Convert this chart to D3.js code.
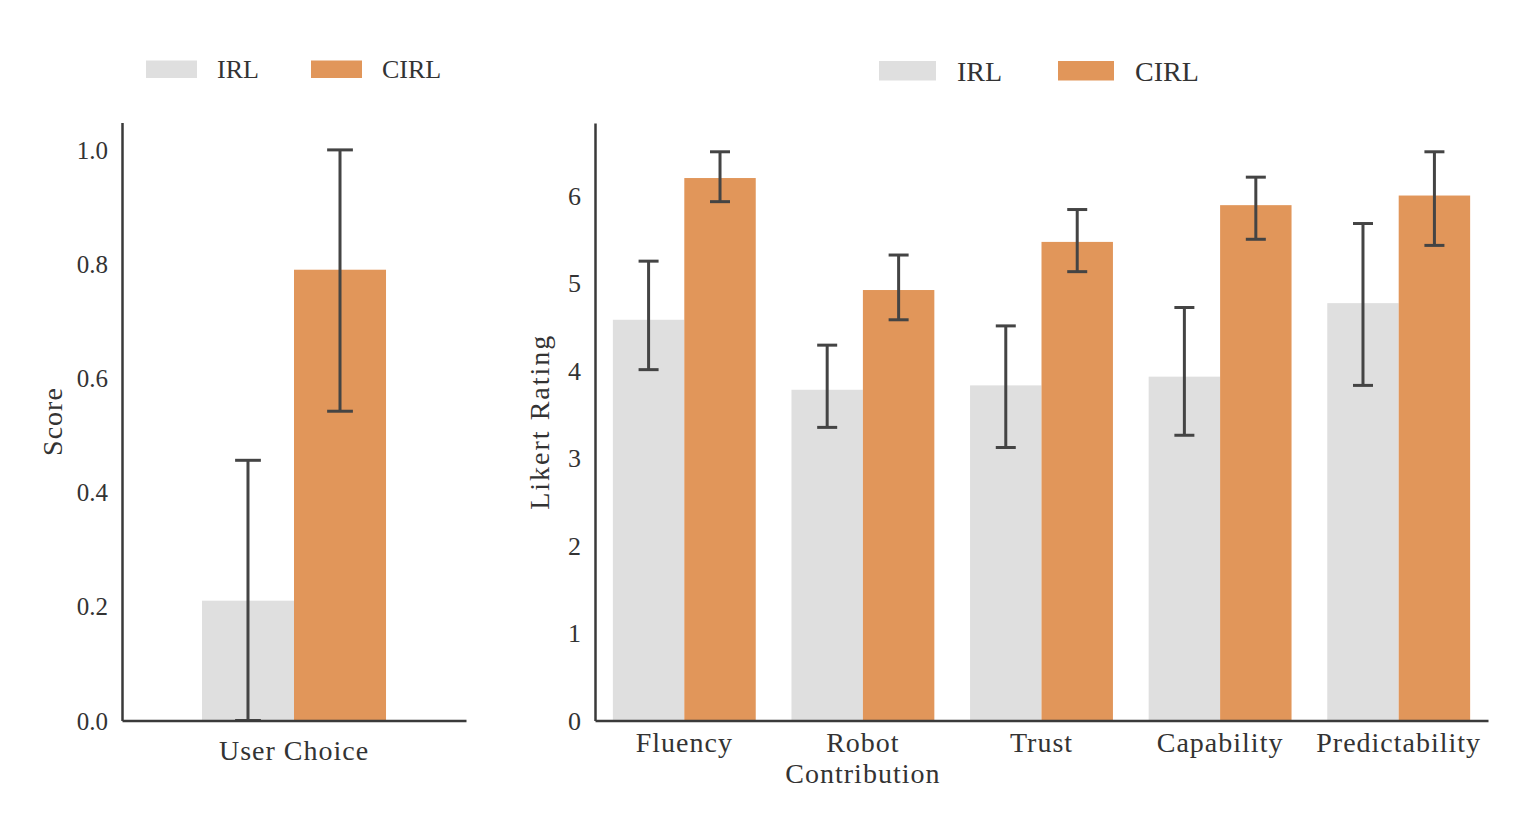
<!DOCTYPE html>
<html>
<head>
<meta charset="utf-8">
<script src="https://cdn.jsdelivr.net/npm/d3@7/dist/d3.min.js"></script>
<style>
  html, body { margin: 0; padding: 0; background: #fff; }
  svg { display: block; }
  text { font-family: "Liberation Serif", "DejaVu Serif", serif; fill: #333; }
</style>
</head>
<body>
<svg id="chart" width="1540" height="836"></svg>
<script>
// ---------- data ----------
const seriesNames = ["IRL", "CIRL"];
const seriesColors = ["#dfdfdf", "#e1965a"];

// left panel
const leftCategories = ["User Choice"];
const leftIrlMean = [0.21];
const leftIrlLow = [0.0];
const leftIrlHigh = [0.456];
const leftCirlMean = [0.79];
const leftCirlLow = [0.542];
const leftCirlHigh = [1.0];
const leftTicks = [0.0, 0.2, 0.4, 0.6, 0.8, 1.0];

// right panel
const rightCategories = ["Fluency", "Robot\nContribution", "Trust", "Capability", "Predictability"];
const rightIrlMean = [4.58, 3.78, 3.83, 3.93, 4.77];
const rightIrlLow = [4.01, 3.35, 3.12, 3.26, 3.83];
const rightIrlHigh = [5.25, 4.29, 4.51, 4.72, 5.68];
const rightCirlMean = [6.20, 4.92, 5.47, 5.89, 6.00];
const rightCirlLow = [5.93, 4.58, 5.13, 5.50, 5.43];
const rightCirlHigh = [6.50, 5.32, 5.84, 6.21, 6.50];
const rightTicks = [0, 1, 2, 3, 4, 5, 6];

const svg = d3.select("#chart");
const axisColor = "#3a3a3a";
const errColor = "#444";

function drawPanel(cfg) {
  const g = svg.append("g");
  const x = d3.scaleBand().domain(cfg.categories).range([cfg.x0, cfg.x1]);
  const y = d3.scaleLinear().domain([0, cfg.yMax]).range([cfg.y0, cfg.yTop]);
  const groupW = x.bandwidth() * cfg.groupFrac;
  const barW = groupW / 2;
  const capW = barW * 0.28;

  const rows = [];
  cfg.categories.forEach((c, i) => {
    cfg.series.forEach((s, j) => {
      rows.push({ cat: c, j, mean: s.mean[i], lo: s.lo[i], hi: s.hi[i] });
    });
  });
  const bx = d => x(d.cat) + x.bandwidth() / 2 - groupW / 2 + d.j * barW;

  g.selectAll("rect.bar").data(rows).enter().append("rect")
    .attr("class", "bar")
    .attr("x", bx)
    .attr("width", barW)
    .attr("y", d => y(d.mean))
    .attr("height", d => y(0) - y(d.mean))
    .attr("fill", d => seriesColors[d.j]);

  // error bars
  const eg = g.selectAll("g.err").data(rows).enter().append("g")
    .attr("stroke", errColor).attr("stroke-width", 3).attr("stroke-linecap", "butt");
  eg.append("line")
    .attr("x1", d => bx(d) + barW / 2).attr("x2", d => bx(d) + barW / 2)
    .attr("y1", d => y(d.lo)).attr("y2", d => y(d.hi));
  eg.append("line")
    .attr("x1", d => bx(d) + barW / 2 - capW / 2).attr("x2", d => bx(d) + barW / 2 + capW / 2)
    .attr("y1", d => y(d.lo)).attr("y2", d => y(d.lo));
  eg.append("line")
    .attr("x1", d => bx(d) + barW / 2 - capW / 2).attr("x2", d => bx(d) + barW / 2 + capW / 2)
    .attr("y1", d => y(d.hi)).attr("y2", d => y(d.hi));

  // y axis
  const yAxis = d3.axisLeft(y).tickValues(cfg.ticks).tickSize(0).tickPadding(14)
    .tickFormat(cfg.tickFormat);
  const ya = g.append("g").attr("transform", `translate(${cfg.x0},0)`).call(yAxis);
  ya.select(".domain").attr("stroke", axisColor).attr("stroke-width", 2.5);
  ya.selectAll("text").attr("font-size", cfg.tickSize).attr("fill", "#333")
    .attr("font-family", "Liberation Serif").attr("dy", "0.34em");

  // x axis
  const xAxis = d3.axisBottom(x).tickSize(0).tickFormat("");
  const xa = g.append("g").attr("transform", `translate(0,${cfg.y0})`).call(xAxis);
  xa.select(".domain").attr("stroke", axisColor).attr("stroke-width", 2.5);

  // x labels
  cfg.categories.forEach(c => {
    const t = g.append("text")
      .attr("text-anchor", "middle")
      .attr("font-size", cfg.labelSize)
      .attr("letter-spacing", cfg.labelSpacing);
    c.split("\n").forEach((line, k) => {
      t.append("tspan").attr("x", x(c) + x.bandwidth() / 2)
        .attr("y", cfg.labelY + k * cfg.lineH).text(line);
    });
  });

  // y title
  g.append("text")
    .attr("transform", `translate(${cfg.titleX},${(cfg.y0 + cfg.yTop) / 2 + cfg.titleDy}) rotate(-90)`)
    .attr("text-anchor", "middle")
    .attr("font-size", cfg.titleSize)
    .attr("letter-spacing", cfg.titleSpacing)
    .text(cfg.title);

  // legend
  const lg = g.append("g");
  cfg.legend.forEach((L, j) => {
    lg.append("rect").attr("x", L.sx).attr("y", cfg.legendY).attr("width", L.sw)
      .attr("height", cfg.legendH).attr("fill", seriesColors[j]);
    lg.append("text").attr("x", L.tx).attr("y", cfg.legendY + cfg.legendH)
      .attr("font-size", cfg.legendSize).text(seriesNames[j]);
  });
}

drawPanel({
  categories: leftCategories,
  series: [
    { mean: leftIrlMean, lo: leftIrlLow, hi: leftIrlHigh },
    { mean: leftCirlMean, lo: leftCirlLow, hi: leftCirlHigh }
  ],
  x0: 122, x1: 466, y0: 720.5, yTop: 122.5, yMax: 1.048,
  groupFrac: 0.535,
  ticks: leftTicks, tickFormat: d3.format(".1f"), tickSize: 25,
  labelSize: 28, labelSpacing: 1, labelY: 760, lineH: 31,
  title: "Score", titleX: 62, titleDy: 0, titleSize: 28, titleSpacing: 1,
  legendY: 60.5, legendH: 17.5, legendSize: 26,
  legend: [{ sx: 146, sw: 51, tx: 217 }, { sx: 311, sw: 51, tx: 382 }]
});

drawPanel({
  categories: rightCategories,
  series: [
    { mean: rightIrlMean, lo: rightIrlLow, hi: rightIrlHigh },
    { mean: rightCirlMean, lo: rightCirlLow, hi: rightCirlHigh }
  ],
  x0: 595, x1: 1488, y0: 720.5, yTop: 123, yMax: 6.829,
  groupFrac: 0.8,
  ticks: rightTicks, tickFormat: d3.format("d"), tickSize: 26,
  labelSize: 28, labelSpacing: 1, labelY: 752, lineH: 31,
  title: "Likert Rating", titleX: 549, titleDy: 0, titleSize: 28, titleSpacing: 2,
  legendY: 61, legendH: 19.5, legendSize: 28,
  legend: [{ sx: 879, sw: 57, tx: 957 }, { sx: 1058, sw: 56, tx: 1135 }]
});
</script>
</body>
</html>
